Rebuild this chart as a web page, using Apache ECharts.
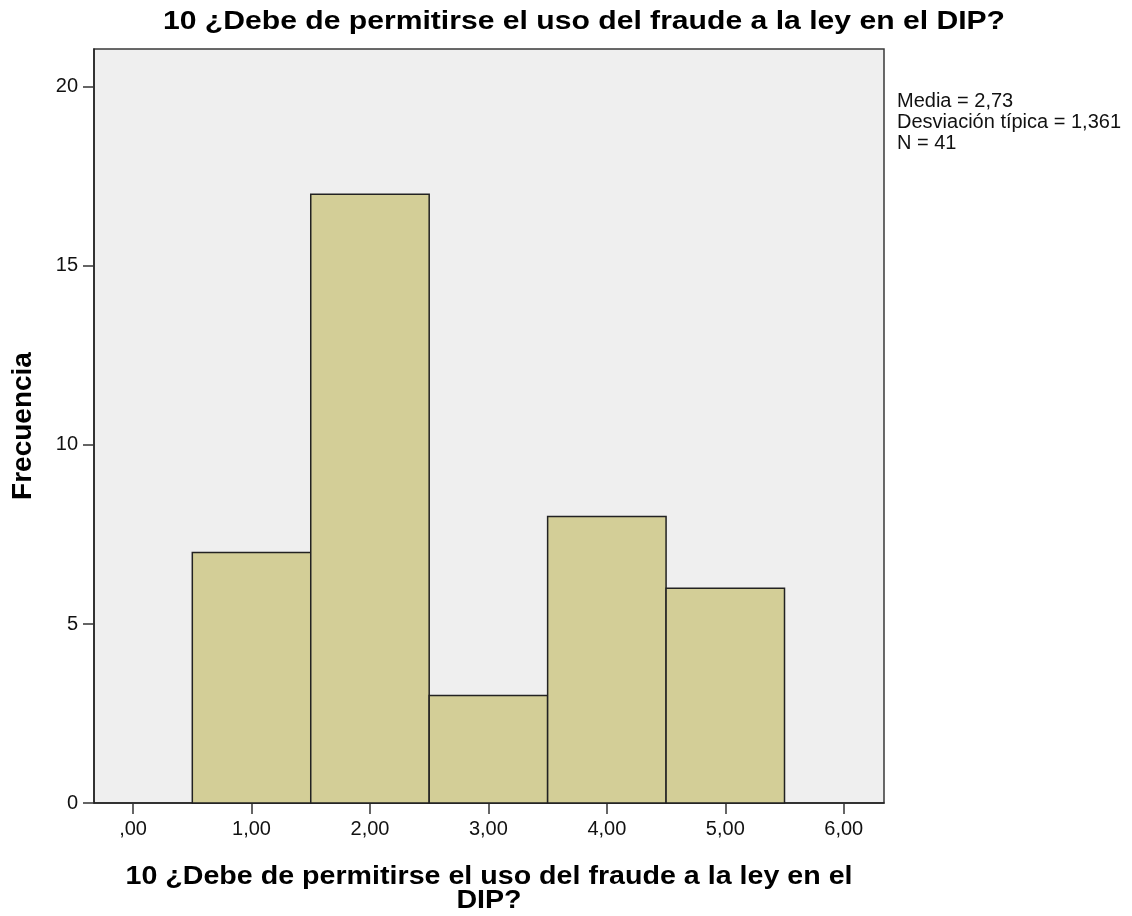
<!DOCTYPE html>
<html><head><meta charset="utf-8">
<script src="https://cdn.jsdelivr.net/npm/echarts@6/dist/echarts.min.js"></script>
<style>html,body{margin:0;padding:0;background:#fff}#c{width:1132px;height:916px}</style>
</head><body><div id="c"></div>
<script>
const titleText = '10 ¿Debe de permitirse el uso del fraude a la ley en el DIP?';
const xAxisTitleLines = ['10 ¿Debe de permitirse el uso del fraude a la ley en el', 'DIP?'];
const yAxisTitle = 'Frecuencia';
const binCenters = [1, 2, 3, 4, 5];
const frequencies = [7, 17, 3, 8, 6];
const binWidth = 1;
const xTicks = [0, 1, 2, 3, 4, 5, 6];
const yTicks = [0, 5, 10, 15, 20];
const statsLines = ['Media = 2,73', 'Desviación típica = 1,361', 'N = 41'];

const FONT = 'Liberation Sans, Arial, sans-serif';
const data = binCenters.map((c, i) => [c, frequencies[i]]);
const fmtX = v => { const s = Number(v).toFixed(2).replace('.', ','); return s.startsWith('0') ? s.slice(1) : s; };

// horizontal stretch factor so that text spans the same width as in the reference
const cv = document.createElement('canvas').getContext('2d');
function fitScale(text, font, target) { cv.font = font; return target / cv.measureText(text).width; }
const titleFont = 'bold 25px ' + FONT;
const xNameFont = 'bold 25px ' + FONT;
const titleScale = fitScale(titleText, titleFont, 842);
const xNameScale = fitScale(xAxisTitleLines[0], xNameFont, 727);

const chart = echarts.init(document.getElementById('c'));
chart.setOption({
  animation: false,
  backgroundColor: '#ffffff',
  grid: { left: 94, top: 49, right: 248, bottom: 113, show: true, backgroundColor: '#efefef', borderColor: '#3a3a3a', borderWidth: 1.5 },
  xAxis: {
    type: 'value', min: -0.33, max: 6.34,
    axisLine: { show: true, onZero: false, lineStyle: { color: '#222', width: 1.5 } },
    axisTick: { show: true, length: 11, customValues: xTicks, lineStyle: { color: '#333', width: 1.5 } },
    axisLabel: { customValues: xTicks, formatter: fmtX, margin: 16, fontFamily: FONT, fontSize: 20, color: '#111' },
    splitLine: { show: false }
  },
  yAxis: {
    type: 'value', min: 0, max: 21.06,
    axisLine: { show: true, onZero: false, lineStyle: { color: '#222', width: 1.5 } },
    axisTick: { show: true, length: 11, customValues: yTicks, lineStyle: { color: '#333', width: 1.5 } },
    axisLabel: { customValues: yTicks, margin: 16, fontFamily: FONT, fontSize: 20, color: '#111' },
    splitLine: { show: false }
  },
  graphic: [
    { type: 'text', x: 584, y: 10, scaleX: titleScale,
      style: { x: 0, y: 0, text: titleText, font: titleFont, fill: '#000', textAlign: 'center', textVerticalAlign: 'top' } },
    { type: 'text', x: 489, y: 865, scaleX: xNameScale,
      style: { x: 0, y: 0, text: xAxisTitleLines.join('\n'), font: xNameFont, lineHeight: 24, fill: '#000', textAlign: 'center', textVerticalAlign: 'top' } },
    { type: 'text', x: 23, y: 426, rotation: Math.PI / 2,
      style: { x: 0, y: 0, text: yAxisTitle, font: 'bold 28px ' + FONT, fill: '#000', textAlign: 'center', textVerticalAlign: 'middle' } },
    { type: 'text', x: 897, y: 91,
      style: { x: 0, y: 0, text: statsLines.join('\n'), font: '20px ' + FONT, lineHeight: 21, fill: '#111', textVerticalAlign: 'top' } }
  ],
  series: [{
    type: 'custom',
    data: data,
    renderItem: function (params, api) {
      const c = api.value(0), v = api.value(1);
      const p0 = api.coord([c - binWidth / 2, v]);
      const p1 = api.coord([c + binWidth / 2, 0]);
      return {
        type: 'rect',
        shape: { x: p0[0], y: p0[1], width: p1[0] - p0[0], height: p1[1] - p0[1] },
        style: { fill: '#d3ce97', stroke: '#222', lineWidth: 1.5 }
      };
    }
  }]
});
</script></body></html>
